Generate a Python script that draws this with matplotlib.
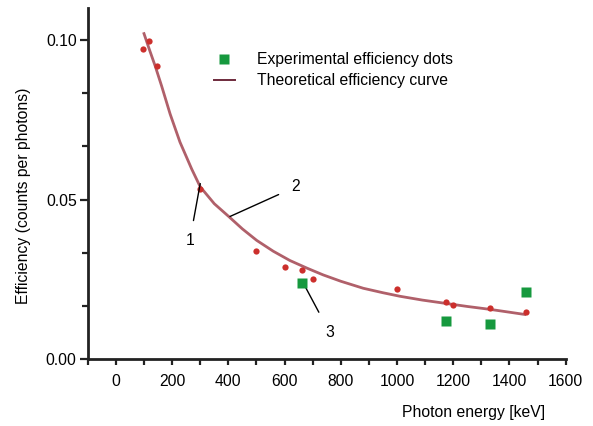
import numpy as np
import matplotlib
matplotlib.use('Agg')
import matplotlib.pyplot as plt
from matplotlib.ticker import MultipleLocator, FormatStrFormatter
from matplotlib.lines import Line2D

plt.rcParams['font.family'] = ['Liberation Sans', 'DejaVu Sans']
FS = 11.3

# ---------------- данные ----------------
# красные точки (калибровочные)
red_energy = [97, 118, 147, 300, 500, 600, 662, 700, 1000, 1173, 1200, 1332, 1460]
red_eff = [0.0972, 0.0997, 0.0918, 0.0532, 0.0338, 0.0289, 0.0280, 0.0250,
           0.0220, 0.0180, 0.0169, 0.0160, 0.0149]

# зелёные квадраты (экспериментальные)
exp_energy = [662, 1173, 1332, 1460]
exp_eff = [0.0239, 0.0119, 0.0109, 0.0210]

# теоретическая кривая (точки)
curve_energy = [100, 120, 140, 163, 193, 228, 270, 300, 350, 400, 450, 501,
                560, 619, 680, 737, 800, 880, 950, 1010, 1090, 1170, 1250,
                1330, 1400, 1454]
curve_eff = [0.1020, 0.0968, 0.0918, 0.0855, 0.0768, 0.0680, 0.0595, 0.0540,
             0.0487, 0.0448, 0.0408, 0.0372, 0.0338, 0.0309, 0.0285, 0.0264,
             0.0244, 0.0222, 0.0208, 0.0197, 0.0185, 0.0175, 0.0165, 0.0156,
             0.0147, 0.0140]

# ---------------- построение ----------------
fig = plt.figure(figsize=(5.93, 4.26), dpi=100)
ax = fig.add_axes([0.148, 0.157, 0.806, 0.824])

ax.plot(curve_energy, curve_eff, '-', color='#b0606a', lw=2, zorder=2,
        solid_joinstyle='round')
ax.plot(red_energy, red_eff, 'o', color='#cc2f2c', ms=4.5, mec='none', zorder=3)
ax.plot(exp_energy, exp_eff, 's', color='#16993e', ms=6.5, mec='none', zorder=4)

# подписи 1, 2, 3
arrow = dict(arrowstyle='-', color='k', lw=1, shrinkB=0)
ax.annotate('1', xy=(300, 0.0550), xytext=(263, 0.0372), fontsize=FS,
            ha='center', va='center', arrowprops=dict(arrow, shrinkA=7))
ax.annotate('2', xy=(406, 0.0447), xytext=(640, 0.0540), fontsize=FS,
            ha='center', va='center', arrowprops=dict(arrow, shrinkA=8))
ax.annotate('3', xy=(668, 0.0236), xytext=(760, 0.0084), fontsize=FS,
            ha='center', va='center', arrowprops=dict(arrow, shrinkA=8))

ax.set(xlim=(-100, 1600), ylim=(0, 0.11))
ax.xaxis.set_major_locator(MultipleLocator(200))
ax.xaxis.set_minor_locator(MultipleLocator(100))
ax.yaxis.set_major_locator(MultipleLocator(0.05))
ax.yaxis.set_minor_locator(MultipleLocator(0.05 / 3))
ax.yaxis.set_major_formatter(FormatStrFormatter('%.2f'))

for s in ['top', 'right']:
    ax.spines[s].set_visible(False)
for s in ['left', 'bottom']:
    ax.spines[s].set_linewidth(2)
    ax.spines[s].set_color('#222222')
ax.tick_params(which='both', length=4.5, width=1.6, labelsize=FS, color='#222222')
ax.tick_params(axis='y', which='major', length=6, pad=2)
ax.tick_params(axis='x', pad=6)

ax.set_ylabel('Efficiency (counts per photons)', fontsize=FS)
ax.yaxis.set_label_coords(-0.119, 0.464)
ax.set_xlabel('Photon energy [keV]', fontsize=FS, ha='right')
ax.xaxis.set_label_coords(0.956, -0.131)

handles = [Line2D([], [], ls='none', marker='s', color='#16993e', ms=6.5, mec='none'),
           Line2D([], [], color='#6e2a3c', lw=1.4)]
labels = ['Experimental efficiency dots', 'Theoretical efficiency curve']
ax.legend(handles, labels, loc='upper left',
          bbox_to_anchor=(0.235, 0.915), frameon=False, fontsize=FS,
          handlelength=1.3, handletextpad=1.4, labelspacing=0.4)

fig.savefig('out.png', dpi=100)
